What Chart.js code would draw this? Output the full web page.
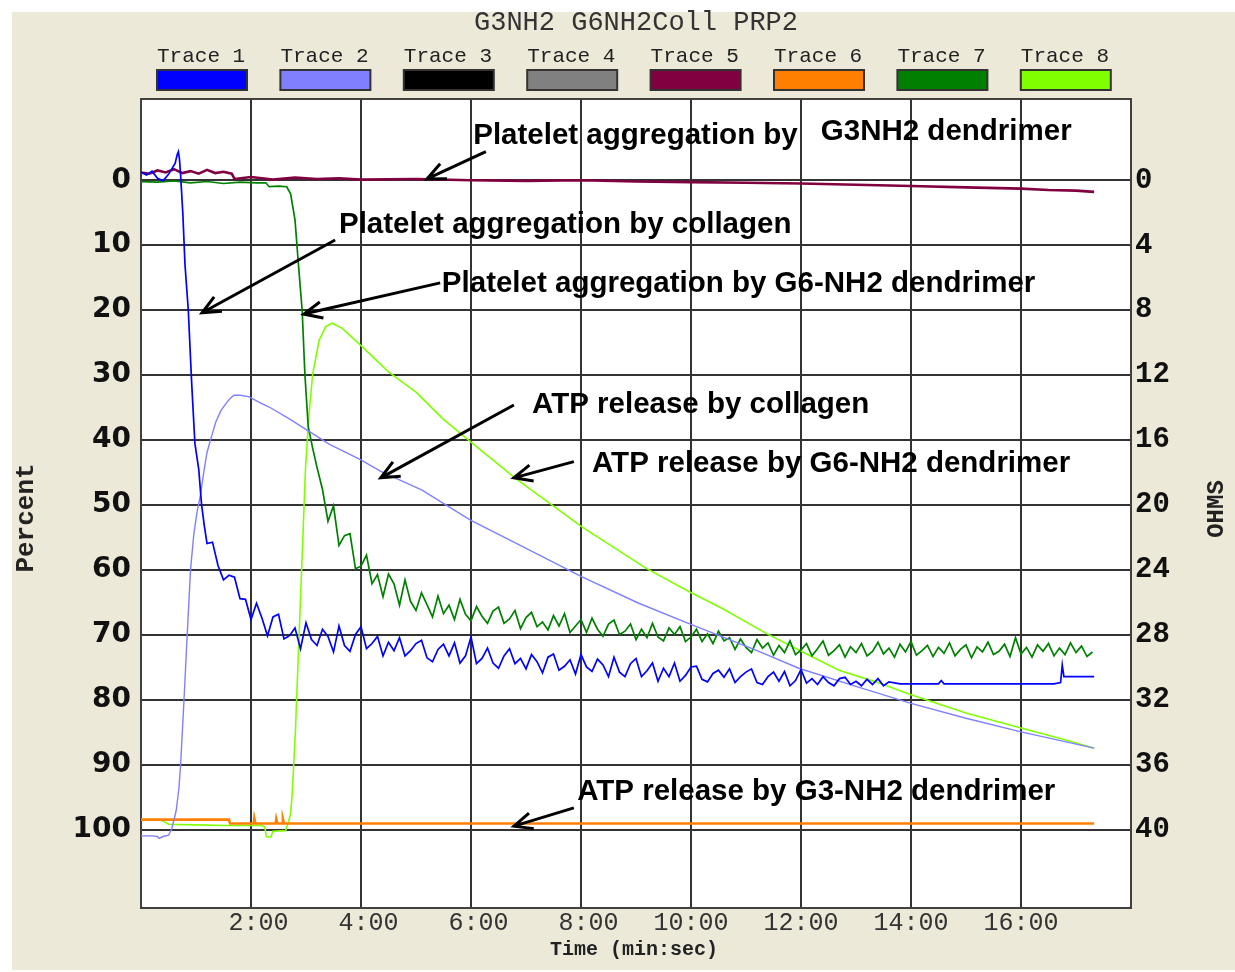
<!DOCTYPE html>
<html><head><meta charset="utf-8">
<script src="https://cdn.jsdelivr.net/npm/chart.js@4.4.1/dist/chart.umd.min.js"></script>
<style>html,body{margin:0;padding:0;background:#fff;overflow:hidden}canvas{display:block}</style>
</head><body>
<canvas id="c" width="1235" height="972"></canvas>
<script>
// ---------- text & categories ----------
const chartTitle = 'G3NH2 G6NH2Coll PRP2';
const traceNames = ['Trace 1','Trace 2','Trace 3','Trace 4','Trace 5','Trace 6','Trace 7','Trace 8'];
const traceColors = ['#0000FF','#8080FF','#000000','#808080','#800040','#FF8000','#008000','#80FF00'];
const yTicks = [0,10,20,30,40,50,60,70,80,90,100];
const ohmTicks = [0,4,8,12,16,20,24,28,32,36,40];
const xTicks = [2,4,6,8,10,12,14,16];
const xTickLabels = [' 2:00',' 4:00',' 6:00',' 8:00','10:00','12:00','14:00','16:00'];
const xTitle = 'Time (min:sec)';
const yTitle = 'Percent';
const y2Title = 'OHMS';

// ---------- Trace 1 : platelet aggregation by collagen (min, %) ----------
const t1 = [0,0.1,0.2,0.3,0.4,0.5,0.55,0.62,0.66,0.68,0.7,0.72,0.76,0.8,0.86,0.92,0.98,1.05,1.1,1.15,
1.2,1.3,1.4,1.5,1.6,1.7,1.8,1.9,2.0,2.1,2.2,2.3,2.4,2.5,2.6,2.7,2.8,2.9,3.0,3.1,
3.2,3.3,3.4,3.5,3.6,3.7,3.8,3.9,4.0,4.1,4.2,4.3,4.4,4.5,4.6,4.7,4.8,4.9,5.0,5.1,
5.2,5.3,5.4,5.5,5.6,5.7,5.8,5.9,6.0,6.1,6.2,6.3,6.4,6.5,6.6,6.7,6.8,6.9,7.0,7.1,
7.2,7.3,7.4,7.5,7.6,7.7,7.8,7.9,8.0,8.1,8.2,8.3,8.4,8.5,8.6,8.7,8.8,8.9,9.0,9.1,
9.2,9.3,9.4,9.5,9.6,9.7,9.8,9.9,10.0,10.1,10.2,10.3,10.4,10.5,10.6,10.7,10.8,10.9,11.0,11.1,
11.2,11.3,11.4,11.5,11.6,11.7,11.8,11.9,12.0,12.1,12.2,12.3,12.4,12.5,12.6,12.7,12.8,12.9,13.0,13.1,
13.2,13.3,13.4,13.5,13.6,13.8,14.5,14.55,14.6,16.6,16.72,16.75,16.78,17.33];
const v1 = [-1.2,-0.8,-1.4,-0.3,0.1,-0.9,-1.6,-2.6,-4.0,-4.4,-3.2,-0.8,5,13,20,31,40.5,44.5,49.8,53.1,
55.9,55.7,59.3,61.5,60.8,61.1,64.4,64.5,67.6,65.1,
67.4,70.1,67.2,66.8,70.6,70.1,68.9,72.1,68.1,70.7,
71.6,69.1,70.2,72.6,68.6,71.6,72.5,69.9,68.7,72.1,
71.3,70.2,73.2,71.1,72.4,70.4,73.2,72.4,71.3,70.8,
73.5,74.1,72.2,71.4,73.2,71.2,74.3,73.2,70.3,74.4,
73.6,72.0,74.3,75.1,73.2,72.1,74.4,73.6,75.2,73.0,
74.1,75.8,73.4,72.9,75.4,74.8,73.8,76.0,73.0,74.9,
75.6,73.7,74.6,76.4,73.4,75.7,76.4,74.4,73.6,76.4,
75.5,74.3,77.1,75.1,76.4,74.3,77.1,76.2,74.9,74.8,
76.8,77.2,75.9,75.4,76.5,75.2,77.3,76.4,75.7,75.2,
77.3,77.6,76.4,75.7,77.1,75.6,77.8,77.0,75.3,77.4,
76.7,77.6,76.4,77.3,77.8,76.7,76.5,77.6,77.1,77.8,
76.8,77.6,76.7,77.8,77.2,77.5,77.5,77.0,77.5,77.5,77.3,74.6,76.4,76.4];

// ---------- Trace 2 : ATP release by collagen ----------
const t2 = [0,0.2,0.3,0.33,0.4,0.5,0.56,0.64,0.69,0.72,0.78,0.84,0.9,0.96,1.02,1.08,1.14,1.2,1.28,1.36,
1.45,1.55,1.62,1.69,1.8,1.96,2.15,2.33,2.69,3.05,3.42,3.99,4.36,5.11,5.99,6.94,8.01,9.05,10.01,11.18,
11.96,13.0,14.0,15.0,16.0,16.8,17.33];
const v2 = [100.9,100.9,101.0,101.3,101.0,100.8,99.8,97.0,93.5,90.0,80.3,70.0,60.0,54.5,51.0,48.5,45.0,41.9,39.5,37.2,
35.5,34.3,33.6,33.1,33.1,33.3,34.2,34.9,36.7,38.6,40.6,43.0,44.8,47.7,52.3,56.4,61.0,65.1,68.4,72.3,
75.1,77.9,80.5,82.8,84.9,86.4,87.4];

// ---------- Trace 3, 4 : no data ----------
const t3 = [], v3 = [];
const t4 = [], v4 = [];

// ---------- Trace 5 : platelet aggregation by G3NH2 dendrimer ----------
const t5 = [0,0.15,0.3,0.45,0.6,0.75,0.9,1.05,1.2,1.35,1.5,1.65,1.7,2.0,2.4,2.8,3.2,3.6,4.0,5.0,
6.0,7.0,8.0,9.0,10.0,11.0,12.0,13.0,14.0,15.0,16.0,16.5,17.0,17.33];
const v5 = [-1.2,-1.0,-1.5,-1.2,-1.7,-1.1,-1.4,-1.0,-1.6,-1.1,-1.3,-1.0,-0.2,-0.5,-0.1,-0.4,-0.2,-0.3,-0.1,-0.2,
0.0,0.1,0.0,0.2,0.3,0.4,0.5,0.7,0.9,1.1,1.3,1.5,1.6,1.8];

// ---------- Trace 6 : ATP release by G3-NH2 dendrimer ----------
const t6 = [0,1.6,1.62,2.05,2.06,2.08,2.45,2.46,2.48,2.57,2.58,2.6,17.33];
const v6 = [98.4,98.4,99.0,99.0,98.2,99.0,99.0,98.3,99.0,99.0,98.3,99.0,99.0];

// ---------- Trace 7 : platelet aggregation by G6-NH2 dendrimer ----------
const t7 = [0,0.3,0.6,0.9,1.2,1.5,1.8,2.1,2.27,2.33,2.5,2.65,2.72,2.8,2.86,2.93,2.98,3.04,3.12,3.2,
3.3,3.4,3.5,3.6,3.7,3.8,3.9,4.0,4.1,4.2,4.3,4.4,4.5,4.6,4.7,4.8,4.9,5.0,5.1,5.2,
5.3,5.4,5.5,5.6,5.7,5.8,5.9,6.0,6.1,6.2,6.3,6.4,6.5,6.6,6.7,6.8,6.9,7.0,7.1,7.2,
7.3,7.4,7.5,7.6,7.7,7.8,7.9,8.0,8.1,8.2,8.3,8.4,8.5,8.6,8.7,8.8,8.9,9.0,9.1,9.2,
9.3,9.4,9.5,9.6,9.7,9.8,9.9,10.0,10.1,10.2,10.3,10.4,10.5,10.6,10.7,10.8,10.9,11.0,11.1,11.2,
11.3,11.4,11.5,11.6,11.7,11.8,11.9,12.0,12.1,12.2,12.3,12.4,12.5,12.6,12.7,12.8,12.9,13.0,13.1,13.2,
13.3,13.4,13.5,13.6,13.7,13.8,13.9,14.0,14.1,14.2,14.3,14.4,14.5,14.6,14.7,14.8,14.9,15.0,15.1,15.2,
15.3,15.4,15.5,15.6,15.7,15.8,15.9,16.0,16.1,16.2,16.3,16.4,16.5,16.6,16.7,16.8,16.9,17.0,17.1,17.2,17.3];
const v7 = [0.2,0.3,0.1,0.4,0.2,0.5,0.3,0.4,0.4,1.0,0.9,1.0,2.1,6.1,12.7,20,29.9,37.9,41.2,44.2,
47.6,52.5,50.1,56.2,54.7,54.4,59.8,59.4,57.7,62.1,
60.7,64.1,60.6,62.1,65.4,61.5,64.8,66.2,63.5,65.3,
67.2,64.0,66.7,65.4,67.6,64.5,66.8,67.8,65.6,67.1,
68.2,66.3,65.7,68.2,67.5,66.2,69.0,67.3,66.5,68.7,
68.0,69.2,67.0,68.6,66.7,69.6,68.6,67.6,69.6,67.4,
69.1,70.2,68.3,67.7,69.9,69.4,68.3,70.7,69.1,70.4,
68.2,70.3,70.9,68.9,69.9,68.7,71.0,70.3,69.1,71.0,
69.8,71.3,69.4,70.9,70.4,72.2,70.6,71.9,72.7,70.7,
72.0,71.2,73.1,71.6,72.7,70.9,73.0,72.3,71.3,73.2,
72.1,70.9,73.1,72.4,71.5,73.4,71.8,72.7,71.3,73.2,
72.5,71.1,72.9,72.0,73.4,71.4,72.6,71.0,73.1,72.4,
71.6,73.3,71.9,72.8,71.2,73.2,72.2,71.5,73.5,71.8,
72.6,71.1,73.0,72.5,71.4,73.3,70.4,72.9,71.9,73.4,
71.5,72.5,71.3,73.2,72.0,73.0,71.2,72.7,71.7,73.3,72.6];

// ---------- Trace 8 : ATP release by G6-NH2 dendrimer ----------
const t8 = [0,0.3,0.4,0.5,1.0,1.5,2.0,2.2,2.25,2.28,2.36,2.4,2.63,2.69,2.72,2.75,2.81,2.87,2.93,2.99,
3.05,3.12,3.24,3.36,3.48,3.66,4.02,4.5,5.0,5.5,6.0,6.81,8.01,9.18,9.96,10.57,11.36,11.96,12.69,13.36,
14.0,15.0,16.0,16.8,17.33];
const v8 = [98.4,98.4,98.6,99.1,99.2,99.3,99.3,99.3,99.5,101.0,101.1,100.2,100.1,98.5,97.5,94.3,84.3,71.0,57.8,44.5,
36.6,29.9,24.6,22.5,22.0,22.8,25.6,29.5,32.6,36.8,40.3,45.9,53.3,59.7,63.3,65.9,69.7,72.3,75.4,77.2,
79.2,82.0,84.3,86.1,87.4];

// ---------- annotations (data units: minutes, percent) ----------
const notes = [
  {text:'Platelet aggregation by', x:6.04, y:-6.9},
  {text:'G3NH2 dendrimer', x:12.36, y:-7.5},
  {text:'Platelet aggregation by collagen', x:3.6, y:6.8},
  {text:'Platelet aggregation by G6-NH2 dendrimer', x:5.47, y:16.0},
  {text:'ATP release by collagen', x:7.11, y:34.5},
  {text:'ATP release by G6-NH2 dendrimer', x:8.2, y:43.6},
  {text:'ATP release by G3-NH2 dendrimer', x:7.93, y:94.1}
];
const arrows = [
  {from:[6.27,-4.4], to:[5.2,-0.2]},
  {from:[3.53,9.2], to:[1.11,20.4]},
  {from:[5.44,15.8], to:[2.96,20.6]},
  {from:[6.78,34.6], to:[4.36,45.8]},
  {from:[7.87,43.3], to:[6.78,45.8]},
  {from:[7.87,96.6], to:[6.78,99.4]}
];

// ---------- build ----------
const series = [[t1,v1],[t2,v2],[t3,v3],[t4,v4],[t5,v5],[t6,v6],[t7,v7],[t8,v8]];
const lineWidths = [1.7,1.4,1.5,1.5,2.6,2.6,1.7,1.6];
const pts = (t, v) => t.map((x, i) => ({x: x, y: v[i]}));

const decor = {
  id: 'decor',
  beforeDraw(chart) {
    const ctx = chart.ctx, ca = chart.chartArea;
    ctx.save();
    ctx.fillStyle = '#ffffff';
    ctx.fillRect(0, 0, chart.width, chart.height);
    ctx.fillStyle = '#ECE9D8';
    ctx.fillRect(12, 12, chart.width - 12, 958);
    ctx.fillStyle = '#ffffff';
    ctx.fillRect(ca.left, ca.top, ca.right - ca.left, ca.bottom - ca.top);
    ctx.restore();
  },
  beforeDatasetsDraw(chart) {
    const ctx = chart.ctx, ca = chart.chartArea;
    ctx.save();
    ctx.strokeStyle = '#404040';
    ctx.lineWidth = 2;
    ctx.strokeRect(ca.left, ca.top, ca.right - ca.left, ca.bottom - ca.top);
    ctx.restore();
  },
  afterDatasetsDraw(chart) {
    const ctx = chart.ctx, xs = chart.scales.x, ys = chart.scales.y;
    ctx.save();
    ctx.strokeStyle = '#000'; ctx.fillStyle = '#000';
    ctx.lineWidth = 3; ctx.lineJoin = 'miter'; ctx.lineCap = 'butt';
    arrows.forEach(a => {
      const x1 = xs.getPixelForValue(a.from[0]), y1 = ys.getPixelForValue(a.from[1]);
      const x2 = xs.getPixelForValue(a.to[0]), y2 = ys.getPixelForValue(a.to[1]);
      const ang = Math.atan2(y2 - y1, x2 - x1), L = 20, w = 0.42;
      ctx.beginPath();
      ctx.moveTo(x1, y1); ctx.lineTo(x2, y2);
      ctx.moveTo(x2 - L * Math.cos(ang - w), y2 - L * Math.sin(ang - w));
      ctx.lineTo(x2, y2);
      ctx.lineTo(x2 - L * Math.cos(ang + w), y2 - L * Math.sin(ang + w));
      ctx.stroke();
    });
    ctx.font = 'bold 29.5px "Liberation Sans", Arial, sans-serif';
    ctx.textAlign = 'left'; ctx.textBaseline = 'middle';
    notes.forEach(n => {
      ctx.fillText(n.text, xs.getPixelForValue(n.x), ys.getPixelForValue(n.y));
    });
    ctx.restore();
  },
  afterDraw(chart) {
    const ctx = chart.ctx, ca = chart.chartArea;
    ctx.save();
    // title
    ctx.fillStyle = '#333';
    ctx.font = '27px "Liberation Mono", monospace';
    ctx.textAlign = 'center'; ctx.textBaseline = 'middle';
    ctx.fillText(chartTitle, (ca.left + ca.right) / 2, 23);
    // legend
    const x0 = 157, dx = 123.4;
    chart.data.datasets.forEach((ds, i) => {
      const x = x0 + i * dx;
      ctx.fillStyle = '#222';
      ctx.font = '21px "Liberation Mono", monospace';
      ctx.textAlign = 'left'; ctx.textBaseline = 'middle';
      ctx.fillText(ds.label, x, 56);
      ctx.fillStyle = ds.borderColor;
      ctx.fillRect(x, 70, 90, 20);
      ctx.strokeStyle = '#333'; ctx.lineWidth = 2;
      ctx.strokeRect(x, 70, 90, 20);
    });
    // axis titles
    ctx.fillStyle = '#222';
    ctx.font = 'bold 20px "Liberation Mono", monospace';
    ctx.textAlign = 'center'; ctx.textBaseline = 'middle';
    ctx.fillText(xTitle, 634, 950);
    ctx.font = 'bold 26px "Liberation Mono", monospace';
    ctx.save(); ctx.translate(26, 518); ctx.rotate(-Math.PI / 2); ctx.fillText(yTitle, 0, 0); ctx.restore();
    ctx.font = 'bold 24px "Liberation Mono", monospace';
    ctx.save(); ctx.translate(1217, 509); ctx.rotate(-Math.PI / 2); ctx.fillText(y2Title, 0, 0); ctx.restore();
    ctx.restore();
  }
};

new Chart(document.getElementById('c'), {
  type: 'line',
  data: {
    datasets: traceNames.map((name, i) => ({
      label: name,
      data: pts(series[i][0], series[i][1]),
      borderColor: traceColors[i],
      backgroundColor: traceColors[i],
      borderWidth: lineWidths[i],
      pointRadius: 0,
      fill: false,
      tension: 0,
      xAxisID: 'x',
      yAxisID: 'y'
    }))
  },
  options: {
    responsive: false,
    animation: false,
    events: [],
    layout: {padding: {top: 99, left: 0, right: 0, bottom: 0}},
    plugins: {legend: {display: false}, title: {display: false}, tooltip: {enabled: false}},
    scales: {
      x: {
        type: 'linear', position: 'bottom', min: 0, max: 18,
        afterBuildTicks: s => { s.ticks = xTicks.map(v => ({value: v})); },
        afterFit: s => { s.height = 64; },
        grid: {color: '#333', lineWidth: 2, drawTicks: false},
        border: {display: false},
        ticks: {autoSkip: false, maxRotation: 0, padding: 0, color: '#333',
          font: {family: 'Liberation Mono', size: 25},
          callback: v => xTickLabels[xTicks.indexOf(v)]}
      },
      y: {
        type: 'linear', position: 'left', reverse: true, min: -12.5, max: 112,
        afterBuildTicks: s => { s.ticks = yTicks.map(v => ({value: v})); },
        afterFit: s => { s.width = 141; },
        grid: {color: '#333', lineWidth: 2, drawTicks: false},
        border: {display: false},
        ticks: {autoSkip: false, padding: 10, color: '#111',
          font: {family: 'DejaVu Sans', size: 28, weight: 'bold'},
          callback: v => String(v)}
      },
      y2: {
        type: 'linear', position: 'right', reverse: true, min: -5, max: 44.8,
        afterBuildTicks: s => { s.ticks = ohmTicks.map(v => ({value: v})); },
        afterFit: s => { s.width = 104; },
        grid: {display: false, drawTicks: false},
        border: {display: false},
        ticks: {autoSkip: false, padding: 4, color: '#111',
          font: {family: 'Liberation Mono', size: 29, weight: 'bold'},
          callback: v => String(v)}
      }
    }
  },
  plugins: [decor]
});
</script>
</body></html>
